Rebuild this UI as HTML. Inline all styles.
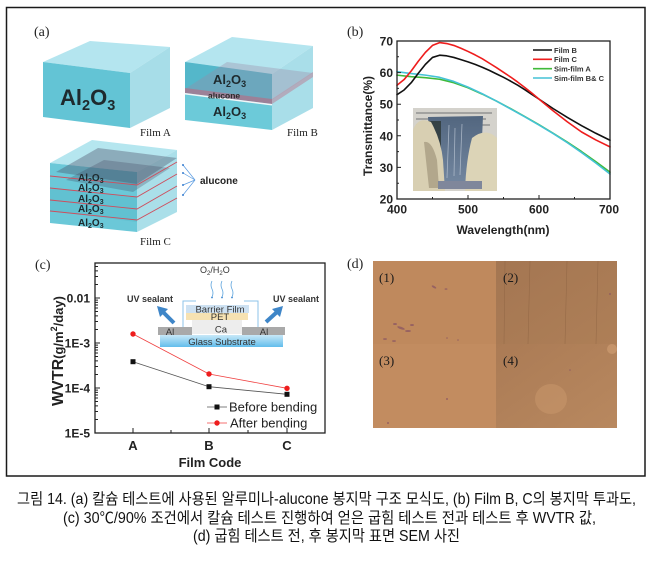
<!DOCTYPE html>
<html><head><meta charset="utf-8"><style>
html,body{margin:0;padding:0;background:#fff;}
svg{display:block;}
</style></head><body>
<svg width="653" height="561" viewBox="0 0 653 561" xmlns="http://www.w3.org/2000/svg">
<defs>
<linearGradient id="glass" x1="0" y1="0" x2="0" y2="1"><stop offset="0" stop-color="#c8e8f8"/><stop offset="1" stop-color="#62bdec"/></linearGradient>
<linearGradient id="q2" x1="0" y1="0" x2="1" y2="1"><stop offset="0" stop-color="#a47652"/><stop offset="1" stop-color="#ae7f57"/></linearGradient>
<linearGradient id="q4" x1="0" y1="0" x2="1" y2="1"><stop offset="0" stop-color="#ab7b55"/><stop offset="1" stop-color="#b8885f"/></linearGradient>
<linearGradient id="film" x1="0" y1="0" x2="0" y2="1"><stop offset="0" stop-color="#52667f"/><stop offset="1" stop-color="#7387a0"/></linearGradient>
</defs>
<rect width="653" height="561" fill="#fff"/>
<rect x="6.5" y="7.5" width="638.5" height="468.5" fill="none" stroke="#1a1a1a" stroke-width="1.5"/>

<!-- ============ (a) ============ -->
<text x="34" y="36" font-family="Liberation Serif, serif" font-size="14" fill="#222">(a)</text>
<!-- Film A -->
<polygon points="43,62 90,41 170,47 130,73" fill="#b4e5ef"/>
<polygon points="43,62 130,73 130,128 43,117" fill="#63c4d5"/>
<polygon points="130,73 170,47 170,108 130,128" fill="#a7dde8"/>
<text x="60" y="105" font-family="Liberation Sans, sans-serif" font-weight="bold" font-size="22" fill="#1e2a2e">Al<tspan font-size="14.5" dy="5">2</tspan><tspan font-size="22" dy="-5">O</tspan><tspan font-size="14.5" dy="5">3</tspan></text>
<text x="140" y="136" font-family="Liberation Serif, serif" font-size="11" fill="#222">Film A</text>
<!-- Film B -->
<polygon points="185,62 232,37 313,46 272,74" fill="#b4e5ef"/>
<polygon points="185,62 272,74 272,130 185,120" fill="#6ccad9"/>
<polygon points="272,74 313,46 313,108 272,130" fill="#a9dee9"/>
<polygon points="185,62 272,74 272,100 185,89" fill="#4fb2c5" opacity="0.8"/>
<polygon points="185,89 227,62 313,73 272,100" fill="#9a8aa6" opacity="0.35"/>
<polygon points="185,88 272,99 272,104 185,93" fill="#9c8198"/>
<polygon points="272,99 313,72 313,77 272,104" fill="#b49fb2" opacity="0.8"/>
<polygon points="185,93 272,104 272,105.5 185,94.5" fill="#f2f6f8"/>
<text x="213" y="84" font-family="Liberation Sans, sans-serif" font-weight="bold" font-size="13" fill="#1e2a2e">Al<tspan font-size="9" dy="3">2</tspan><tspan font-size="13" dy="-3">O</tspan><tspan font-size="9" dy="3">3</tspan></text>
<text x="208" y="98.5" font-family="Liberation Sans, sans-serif" font-weight="bold" font-size="8.5" fill="#2a2a2a">alucone</text>
<text x="213" y="116" font-family="Liberation Sans, sans-serif" font-weight="bold" font-size="13" fill="#1e2a2e">Al<tspan font-size="9" dy="3">2</tspan><tspan font-size="13" dy="-3">O</tspan><tspan font-size="9" dy="3">3</tspan></text>
<text x="287" y="136" font-family="Liberation Serif, serif" font-size="11" fill="#222">Film B</text>
<!-- Film C -->
<polygon points="50,163 92,140 177,150 137,172" fill="#b5e6ef"/>
<polygon points="50,163 137,172 137,232 50,223" fill="#6bc8d8"/>
<polygon points="137,172 177,150 177,212 137,232" fill="#aadfe9"/>
<polygon points="56,172 98,148 177,158 137,184" fill="#4a4f66" opacity="0.38"/>
<polygon points="66,180 104,160 170,168 133,192" fill="#3e4258" opacity="0.28"/>
<polygon points="50,188 137,197 137,222 50,211" fill="#4fb5c6" opacity="0.35"/>
<g stroke="#cf4d5c" stroke-width="0.9" fill="none">
<polyline points="50,176 137,185 177,162"/>
<polyline points="50,188 137,197 177,174"/>
<polyline points="50,200 137,209 177,186"/>
<polyline points="50,211 137,220 177,198"/>
</g>
<g font-family="Liberation Sans, sans-serif" font-weight="bold" font-size="10" fill="#1e2a2e">
<text x="78" y="181">Al<tspan font-size="7" dy="2">2</tspan><tspan font-size="10" dy="-2">O</tspan><tspan font-size="7" dy="2">3</tspan></text>
<text x="78" y="191">Al<tspan font-size="7" dy="2">2</tspan><tspan font-size="10" dy="-2">O</tspan><tspan font-size="7" dy="2">3</tspan></text>
<text x="78" y="202">Al<tspan font-size="7" dy="2">2</tspan><tspan font-size="10" dy="-2">O</tspan><tspan font-size="7" dy="2">3</tspan></text>
<text x="78" y="212">Al<tspan font-size="7" dy="2">2</tspan><tspan font-size="10" dy="-2">O</tspan><tspan font-size="7" dy="2">3</tspan></text>
<text x="78" y="226">Al<tspan font-size="7" dy="2">2</tspan><tspan font-size="10" dy="-2">O</tspan><tspan font-size="7" dy="2">3</tspan></text>
</g>
<g stroke="#5a9be0" stroke-width="0.7" fill="#3a7fd0">
<line x1="195" y1="180" x2="183" y2="165"/><line x1="195" y1="180" x2="183" y2="173"/>
<line x1="195" y1="180" x2="183" y2="185"/><line x1="195" y1="180" x2="183" y2="195"/>
<circle cx="183" cy="165" r="1" stroke="none"/><circle cx="183" cy="173" r="1" stroke="none"/>
<circle cx="183" cy="185" r="1" stroke="none"/><circle cx="183" cy="195" r="1" stroke="none"/>
</g>
<text x="200" y="184" font-family="Liberation Sans, sans-serif" font-weight="bold" font-size="10" fill="#222">alucone</text>
<text x="140" y="245" font-family="Liberation Serif, serif" font-size="11" fill="#222">Film C</text>

<!-- ============ (b) ============ -->
<text x="347" y="36" font-family="Liberation Serif, serif" font-size="14" fill="#222">(b)</text>
<g fill="none" stroke-linejoin="round" stroke-linecap="round" stroke-width="1.6" transform="translate(397,199) scale(0.71,-3.16) translate(-400,-20)">
<polyline vector-effect="non-scaling-stroke" stroke="#3fba3a" points="400,59.2 420,58.7 440,58.4 460,57.9 480,56.8 500,55.2 520,53.2 540,51 560,48.6 580,46.1 600,43.5 620,40.8 640,38 660,35 680,31.8 700,28.5"/>
<polyline vector-effect="non-scaling-stroke" stroke="#45c2d6" points="400,60.3 420,59.7 440,59.2 460,58.5 480,57.2 500,55.4 520,53.3 540,51 560,48.5 580,46 600,43.4 620,40.7 640,37.8 660,34.7 680,31.4 700,27.9"/>
<polyline vector-effect="non-scaling-stroke" stroke="#111" points="400,53 410,54.5 420,56.8 430,59.8 440,62.6 450,64.8 460,65.5 470,65.3 480,64.8 490,64.1 500,63.4 510,62.6 520,61.7 530,60.7 540,59.6 550,58.5 560,57.3 570,56 580,54.6 590,53.1 600,51.6 620,48.6 640,45.8 660,43.2 680,40.8 700,38.6"/>
<polyline vector-effect="non-scaling-stroke" stroke="#ee1d1d" points="400,56 410,57.8 420,60.5 430,63.6 440,66.4 450,68.6 460,69.5 470,69.2 480,68.6 490,67.7 500,66.7 510,65.6 520,64.4 530,63 540,61.6 550,60.1 560,58.6 570,57 580,55.3 590,53.5 600,51.6 620,47.9 640,44.4 660,41.2 680,38.7 700,36.5"/>
</g>
<rect x="397" y="41" width="213" height="158" fill="none" stroke="#222" stroke-width="1.3"/>
<path d="M397,199h4M397,183.2h2M397,167.4h4M397,151.6h2M397,135.8h4M397,120h2M397,104.2h4M397,88.4h2M397,72.6h4M397,56.8h2M397,41h4
M397,199v-4M432.5,199v-2M468,199v-4M503.5,199v-2M539,199v-4M574.5,199v-2M610,199v-4" stroke="#222" stroke-width="1"/>
<g font-family="Liberation Sans, sans-serif" font-weight="bold" font-size="12" fill="#222" text-anchor="end">
<text x="393" y="45.5">70</text><text x="393" y="77">60</text><text x="393" y="108.7">50</text>
<text x="393" y="140.3">40</text><text x="393" y="172">30</text><text x="393" y="203.5">20</text>
</g>
<g font-family="Liberation Sans, sans-serif" font-weight="bold" font-size="12" fill="#222" text-anchor="middle">
<text x="397" y="213.5">400</text><text x="468" y="213.5">500</text><text x="539" y="213.5">600</text><text x="609" y="213.5">700</text>
<text x="503" y="234">Wavelength(nm)</text>
<text transform="translate(372,126) rotate(-90)">Transmittance(%)</text>
</g>
<!-- legend b -->
<g stroke-width="1.6">
<line x1="533" y1="50" x2="552" y2="50" stroke="#111"/>
<line x1="533" y1="59.3" x2="552" y2="59.3" stroke="#ee1d1d"/>
<line x1="533" y1="68.7" x2="552" y2="68.7" stroke="#3fba3a"/>
<line x1="533" y1="78" x2="552" y2="78" stroke="#45c2d6"/>
</g>
<g font-family="Liberation Sans, sans-serif" font-weight="bold" font-size="7.5" fill="#333">
<text x="554" y="52.8">Film B</text><text x="554" y="62.1">Film C</text>
<text x="554" y="71.5">Sim-film A</text><text x="554" y="80.8">Sim-film B&amp; C</text>
</g>
<!-- inset photo -->
<rect x="413" y="108" width="84" height="83" fill="#d4d2cc"/>
<g fill="#8e8e8e" opacity="0.7">
<rect x="416" y="112" width="76" height="2"/><rect x="416" y="118" width="70" height="2"/><rect x="416" y="124" width="74" height="2"/>
</g>
<polygon points="428,117 483,116 480,184 433,186" fill="url(#film)"/>
<g stroke="#b9c4d2" stroke-width="0.8" opacity="0.8">
<line x1="449" y1="125" x2="447" y2="178"/><line x1="455" y1="128" x2="454" y2="176"/><line x1="462" y1="124" x2="460" y2="175"/>
</g>
<polygon points="428,121 441,121 441,152 430,152" fill="#2f3b3b" opacity="0.85"/>
<path d="M413,130 Q418,116 431,122 Q441,140 443,160 L445,191 L413,191 Z" fill="#d8cfb2"/>
<path d="M424,142 Q432,140 437,160 L439,188 L429,188 Z" fill="#8b7f66" opacity="0.5"/>
<path d="M497,138 Q486,127 472,138 Q466,160 465,191 L497,191 Z" fill="#dcd4b7"/>
<rect x="438" y="181" width="44" height="8" fill="#7f879b"/>

<!-- ============ (c) ============ -->
<text x="35" y="269" font-family="Liberation Serif, serif" font-size="14" fill="#222">(c)</text>
<rect x="95" y="263" width="230" height="170" fill="none" stroke="#222" stroke-width="1.3"/>
<path d="M95,433h5M95,419.5h3M95,411.5h3M95,405.9h3M95,401.5h3M95,398h3M95,395h3M95,392.4h3M95,390.1h3
M95,388h5M95,374.5h3M95,366.5h3M95,360.9h3M95,356.5h3M95,353h3M95,350h3M95,347.4h3M95,345.1h3
M95,343h5M95,329.5h3M95,321.5h3M95,315.9h3M95,311.5h3M95,308h3M95,305h3M95,302.4h3M95,300.1h3
M95,298h5M95,284.5h3M95,276.5h3M95,270.9h3M95,266.5h3
M133,433v-5M171,433v-3M209,433v-5M248,433v-3M287,433v-5" stroke="#222" stroke-width="1"/>
<g font-family="Liberation Sans, sans-serif" font-weight="bold" font-size="12" fill="#222" text-anchor="end">
<text x="90" y="302.5">0.01</text><text x="90" y="347.5">1E-3</text><text x="90" y="392.5">1E-4</text><text x="90" y="437.5">1E-5</text>
</g>
<g font-family="Liberation Sans, sans-serif" font-weight="bold" font-size="13" fill="#222" text-anchor="middle">
<text x="133" y="450">A</text><text x="209" y="450">B</text><text x="287" y="450">C</text>
<text x="210" y="467">Film Code</text>
</g>
<text transform="translate(63,351) rotate(-90)" text-anchor="middle" font-family="Liberation Sans, sans-serif" font-weight="bold" fill="#222"><tspan font-size="16">WVTR</tspan><tspan font-size="13">(g/m</tspan><tspan font-size="9" dy="-6">2</tspan><tspan font-size="13" dy="6">/day)</tspan></text>
<!-- inset schematic -->
<text x="200" y="273" font-family="Liberation Sans, sans-serif" font-size="9" fill="#333">O<tspan font-size="6" dy="2">2</tspan><tspan font-size="9" dy="-2">/H</tspan><tspan font-size="6" dy="2">2</tspan><tspan font-size="9" dy="-2">O</tspan></text>
<g stroke="#5aa2dc" stroke-width="0.8" fill="none">
<path d="M212,281 q-2,4 0,8 q2,4 0,8"/><path d="M222,281 q-2,4 0,8 q2,4 0,8"/><path d="M232,281 q-2,4 0,8 q2,4 0,8"/>
</g>
<g fill="#3a86cf"><circle cx="212" cy="297.5" r="0.9"/><circle cx="222" cy="297.5" r="0.9"/><circle cx="232" cy="297.5" r="0.9"/></g>
<g font-family="Liberation Sans, sans-serif" font-weight="bold" font-size="9" fill="#333">
<text x="127" y="302">UV sealant</text><text x="273" y="302">UV sealant</text>
</g>
<path d="M160,328 H183 V301 H196 M244,301 H258 V328 H283" stroke="#8cc3e8" stroke-width="1" fill="none"/>
<rect x="186" y="305" width="63" height="8" fill="#cde1f2"/>
<rect x="186" y="313" width="62" height="7" fill="#f6e2b2"/>
<rect x="192" y="320" width="50" height="14" fill="#ededed"/>
<rect x="158" y="327" width="34" height="8" fill="#a9a9a9"/>
<rect x="242" y="327" width="43" height="8" fill="#a9a9a9"/>
<rect x="160" y="335" width="123" height="12" fill="url(#glass)"/>
<g font-family="Liberation Sans, sans-serif" font-size="9.5" fill="#333" text-anchor="middle">
<text x="220" y="312.5">Barrier Film</text><text x="220" y="320">PET</text><text x="221" y="332.5">Ca</text>
<text x="170" y="335">Al</text><text x="264" y="335">Al</text><text x="222" y="345">Glass Substrate</text>
</g>
<g fill="#3f86c8">
<line x1="174" y1="323" x2="163" y2="312" stroke="#3f86c8" stroke-width="4"/>
<polygon points="157,306 168,309 160,317"/>
<line x1="266" y1="322" x2="277" y2="312" stroke="#3f86c8" stroke-width="4"/>
<polygon points="283,306 272,309 280,317"/>
</g>
<!-- data -->
<polyline points="133,361.7 209,386.7 287,394.3" fill="none" stroke="#555" stroke-width="0.8"/>
<polyline points="133,334 209,374 287,388.3" fill="none" stroke="#f04040" stroke-width="0.8"/>
<g fill="#111"><rect x="130.5" y="359.2" width="5" height="5"/><rect x="206.5" y="384.2" width="5" height="5"/><rect x="284.5" y="391.8" width="5" height="5"/></g>
<g fill="#ee1d1d"><circle cx="133" cy="334" r="2.7"/><circle cx="209" cy="374" r="2.7"/><circle cx="287" cy="388.3" r="2.7"/></g>
<line x1="207" y1="407" x2="227" y2="407" stroke="#555" stroke-width="0.8"/>
<rect x="214.5" y="404.5" width="5" height="5" fill="#111"/>
<line x1="207" y1="423" x2="227" y2="423" stroke="#f04040" stroke-width="0.8"/>
<circle cx="217" cy="423" r="2.7" fill="#ee1d1d"/>
<g font-family="Liberation Sans, sans-serif" font-size="13" fill="#222">
<text x="229" y="411.5">Before bending</text><text x="230" y="427.5">After bending</text>
</g>

<!-- ============ (d) ============ -->
<text x="347" y="268" font-family="Liberation Serif, serif" font-size="14" fill="#222">(d)</text>
<rect x="373" y="261" width="123" height="83" fill="#bf895d"/>
<rect x="496" y="261" width="121" height="83" fill="url(#q2)"/>
<rect x="373" y="344" width="123" height="84" fill="#c28c60"/>
<rect x="496" y="344" width="121" height="84" fill="url(#q4)"/>
<ellipse cx="551" cy="399" rx="16" ry="15" fill="#c9986b" opacity="0.55"/>
<ellipse cx="612" cy="349" rx="5" ry="5" fill="#d2a074" opacity="0.6"/>
<g stroke="#7e5638" stroke-width="0.6" opacity="0.45">
<line x1="505" y1="261" x2="504" y2="344"/><line x1="530" y1="261" x2="528" y2="344"/>
<line x1="567" y1="261" x2="565" y2="344"/><line x1="598" y1="261" x2="596" y2="344"/>
</g>
<g fill="#8a5563" opacity="0.75">
<ellipse cx="401" cy="328" rx="4" ry="1.2" transform="rotate(20 401 328)"/>
<ellipse cx="408" cy="331" rx="3" ry="1"/>
<ellipse cx="395" cy="324" rx="2" ry="1"/>
<ellipse cx="412" cy="325" rx="2" ry="1"/>
<ellipse cx="434" cy="287" rx="2.5" ry="1" transform="rotate(30 434 287)"/>
<ellipse cx="446" cy="289" rx="1.5" ry="0.8"/>
<ellipse cx="385" cy="339" rx="2" ry="0.9"/>
<ellipse cx="394" cy="341" rx="2" ry="0.9"/>
<circle cx="447" cy="338" r="0.8"/><circle cx="458" cy="340" r="0.8"/>
<circle cx="447" cy="399" r="1"/><circle cx="388" cy="423" r="1"/>
<circle cx="610" cy="294" r="1"/><circle cx="570" cy="370" r="0.8"/>
</g>
<g font-family="Liberation Serif, serif" font-size="13" fill="#1a1a1a">
<text x="379" y="282">(1)</text><text x="503" y="282">(2)</text>
<text x="379" y="365">(3)</text><text x="503" y="365">(4)</text>
</g>

<!-- ============ caption ============ -->
<g font-family="Liberation Sans, 'Noto Sans CJK KR', sans-serif" font-size="15.5" fill="#111">
<text x="17" y="504" textLength="619" lengthAdjust="spacingAndGlyphs">그림 14. (a) 칼슘 테스트에 사용된 알루미나-alucone 봉지막 구조 모식도, (b) Film B, C의 봉지막 투과도,</text>
<text x="63" y="523" textLength="533" lengthAdjust="spacingAndGlyphs">(c) 30℃/90% 조건에서 칼슘 테스트 진행하여 얻은 굽힘 테스트 전과 테스트 후 WVTR 값,</text>
<text x="193" y="541" textLength="267" lengthAdjust="spacingAndGlyphs">(d) 굽힘 테스트 전, 후 봉지막 표면 SEM 사진</text>
</g>
</svg>
</body></html>
